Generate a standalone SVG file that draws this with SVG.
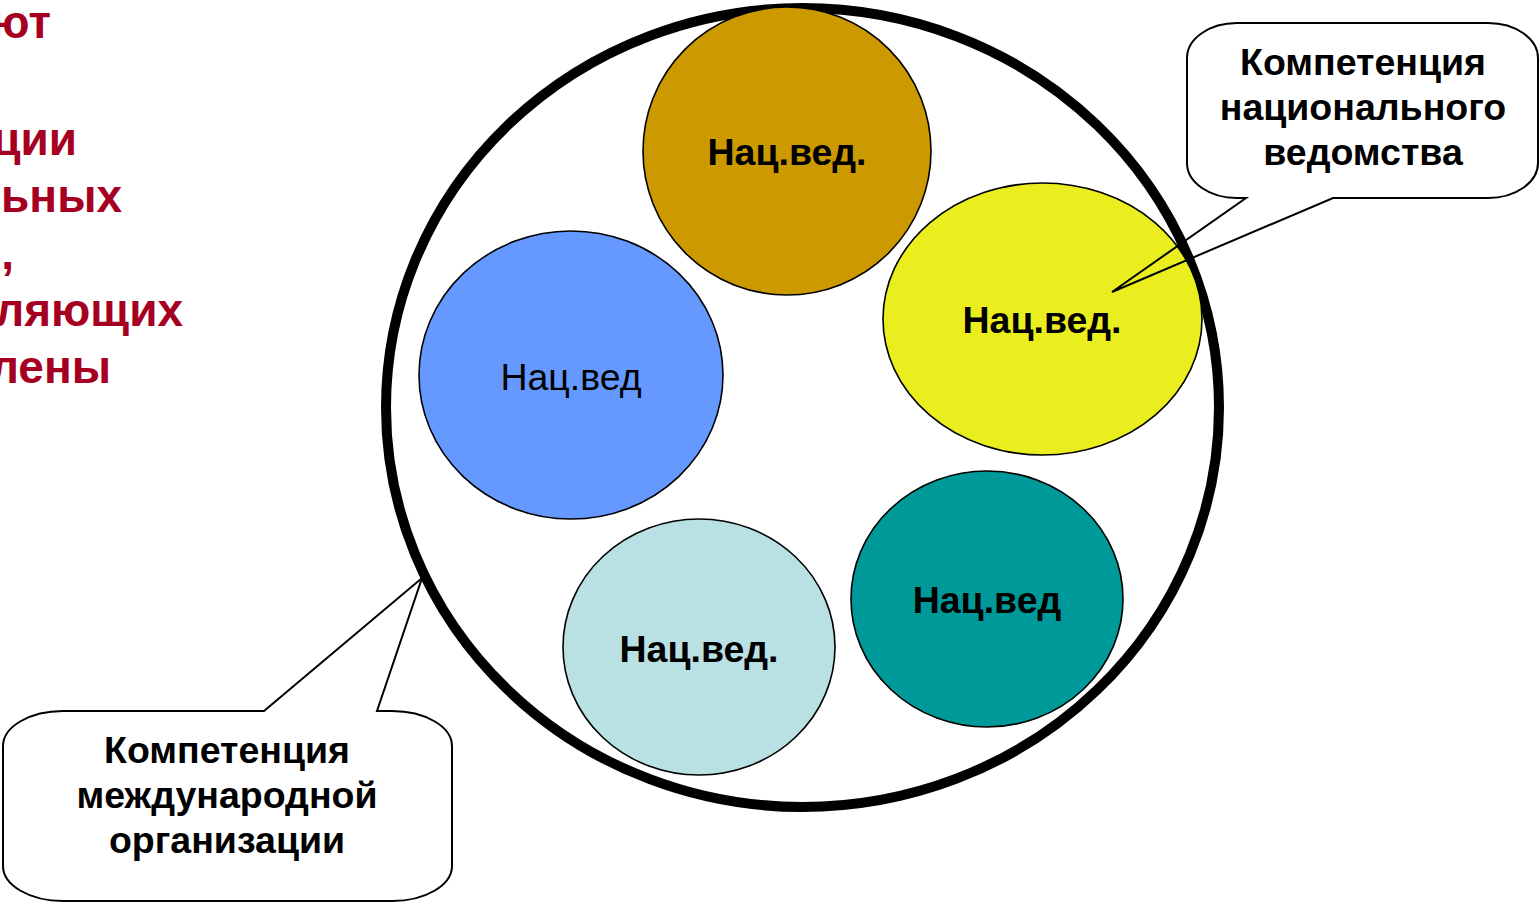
<svg xmlns="http://www.w3.org/2000/svg" width="1539" height="903" viewBox="0 0 1539 903">
<style>
.bg{fill:#ffffff}
.left{font-family:"Liberation Sans",Arial,sans-serif;font-weight:bold;font-size:46px;fill:#A50021;text-anchor:end}
.node{stroke:#000;stroke-width:1.6}
.lbl{font-family:"Liberation Sans",Arial,sans-serif;font-size:37.5px;fill:#000;text-anchor:middle}
.b{font-weight:bold}
.call{fill:none;stroke:#000;stroke-width:2;stroke-linejoin:miter}
.ct{font-family:"Liberation Sans",Arial,sans-serif;font-weight:bold;font-size:37.5px;fill:#000;text-anchor:middle}
</style>
<rect class="bg" x="0" y="0" width="1539" height="903"/>
<g id="left-text">
<text class="left" x="51" y="38">ют</text>
<text class="left" x="77" y="155">ции</text>
<text class="left" x="122" y="212">ьных</text>
<text class="left" x="14" y="269">,</text>
<text class="left" x="183" y="326">ляющих</text>
<text class="left" x="111" y="383">лены</text>
</g>
<g id="org">
<ellipse cx="802.5" cy="407.5" rx="416.5" ry="399.5" fill="none" stroke="#000" stroke-width="10"/>
</g>
<g id="n1">
<ellipse class="node" cx="787" cy="151" rx="144" ry="144" fill="#CC9900"/>
<text class="lbl b" x="787" y="165">Нац.вед.</text>
</g>
<g id="n2">
<ellipse class="node" cx="1042.5" cy="319" rx="159.5" ry="136" fill="#EAEE1E"/>
<text class="lbl b" x="1042" y="333">Нац.вед.</text>
</g>
<g id="n3">
<ellipse class="node" cx="571" cy="375" rx="152" ry="144" fill="#6699FF"/>
<text class="lbl" x="571" y="390">Нац.вед</text>
</g>
<g id="n4">
<ellipse class="node" cx="699" cy="647" rx="136" ry="128" fill="#B9E0E3"/>
<text class="lbl b" x="699" y="662">Нац.вед.</text>
</g>
<g id="n5">
<ellipse class="node" cx="987" cy="599" rx="136" ry="128" fill="#009999"/>
<text class="lbl b" x="987" y="613">Нац.вед</text>
</g>
<g id="connectors">
<path id="callout-nat" class="call" d="M 1237 23 H 1488 A 50 35 0 0 1 1538 58 V 163 A 50 35 0 0 1 1488 198 H 1333 L 1112 292 L 1246 198 H 1237 A 50 35 0 0 1 1187 163 V 58 A 50 35 0 0 1 1237 23 Z"/>
<path id="callout-int" class="call" d="M 63 711 H 264 L 422 578 L 377 711 H 392 A 60 35 0 0 1 452 746 V 866 A 60 35 0 0 1 392 901 H 63 A 60 35 0 0 1 3 866 V 746 A 60 35 0 0 1 63 711 Z"/>
</g>
<g id="callout-nat-text">
<text class="ct" x="1363" y="75">Компетенция</text>
<text class="ct" x="1363" y="120">национального</text>
<text class="ct" x="1363" y="165">ведомства</text>
</g>
<g id="callout-int-text">
<text class="ct" x="227" y="763">Компетенция</text>
<text class="ct" x="227" y="808">международной</text>
<text class="ct" x="227" y="853">организации</text>
</g>
</svg>
